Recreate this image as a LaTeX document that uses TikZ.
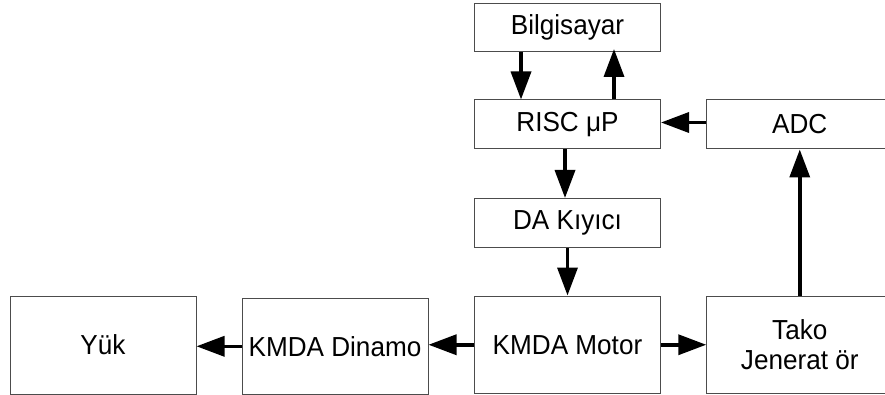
\documentclass[tikz,border=0pt]{standalone}
\usepackage{fontspec}
\setmainfont{Liberation Sans}[FakeStretch=0.95]
\usetikzlibrary{arrows.meta,calc}
\begin{document}
\begin{tikzpicture}[x=1pt,y=-1pt,
  box/.style={draw=black!70, line width=1pt, inner sep=0pt, minimum width=186pt,
    font=\fontsize{27.5}{30}\selectfont, align=center},
  arr/.style={draw=black, line width=3.5pt, -{Triangle[length=28pt,width=20pt]}}]
\useasboundingbox (0,0) rectangle (885,395);
\clip (0,0) rectangle (885,395);
\node[box, minimum height=48pt] (bil) at (567.5,27.5) {Bilgisayar};
\node[box, minimum height=49pt] (risc) at (567.5,124.5) {RISC μP};
\node[box, minimum height=49pt] (adc) at (799.75,124.5) {ADC};
\node[box, minimum height=49pt] (da) at (567.5,223) {DA Kıyıcı};
\node[box, minimum height=97.5pt] (motor) at (567.5,344.75) {KMDA Motor};
\node[box, minimum height=97.5pt] (tako) at (799.75,344.75) {Tako\\Jenerat ör};
\node[box, minimum height=95.5pt] (dinamo) at (335,346.3) {KMDA Dinamo};
\node[box, minimum height=98pt] (yuk) at (103,345) {Yük};
\draw[arr] ([xshift=-46.5pt]bil.south) -- ([xshift=-46.5pt]risc.north);
\draw[arr] ([xshift=46.5pt]risc.north) -- ([xshift=46.5pt,yshift=3pt]bil.south);
\draw[arr] ([yshift=2pt]adc.west) -- ([yshift=2pt]risc.east);
\draw[arr] ([xshift=-2.5pt]risc.south) -- ([xshift=-2.5pt]da.north);
\draw[arr] (da.south) -- (motor.north);
\draw[arr] (tako.north) -- (adc.south);
\draw[arr] (motor.east) -- (tako.west);
\draw[arr] (motor.west) -- (motor.west -| dinamo.east);
\draw[arr] (dinamo.west) -- (dinamo.west -| yuk.east);
\end{tikzpicture}
\end{document}
